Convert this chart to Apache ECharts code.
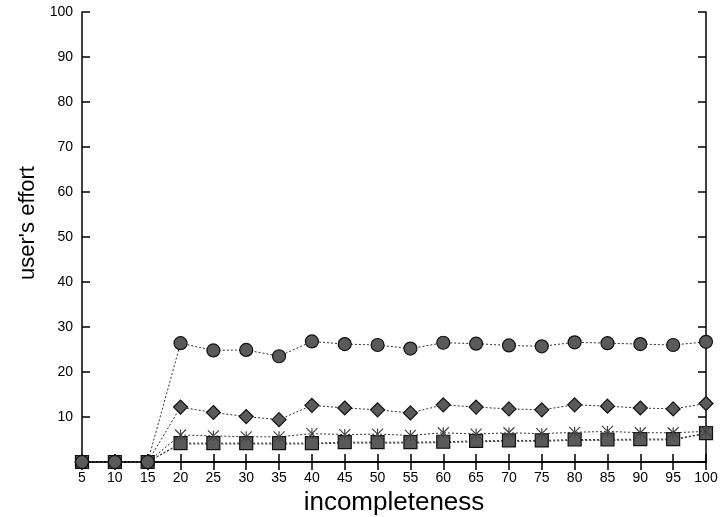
<!DOCTYPE html>
<html>
<head>
<meta charset="utf-8">
<script src="https://cdn.jsdelivr.net/npm/echarts@6/dist/echarts.min.js"></script>
<style>html,body{margin:0;padding:0;background:#fff}#c{width:724px;height:517px}</style>
</head>
<body>
<div id="c"></div>
<script>
const xValues = [5,10,15,20,25,30,35,40,45,50,55,60,65,70,75,80,85,90,95,100];
const circleSeries  = [0,0,0,26.4,24.8,24.9,23.5,26.8,26.2,26.0,25.2,26.5,26.3,25.9,25.7,26.6,26.4,26.2,26.0,26.7];
const diamondSeries = [0,0,0,12.2,11.0,10.1,9.4,12.6,12.0,11.6,10.9,12.7,12.2,11.8,11.6,12.7,12.4,12.0,11.8,13.0];
const crossSeries   = [0,0,0,6.0,5.8,5.6,5.6,6.3,6.1,6.2,5.9,6.5,6.2,6.5,6.3,6.6,6.8,6.5,6.5,6.8];
const squareSeries  = [0,0,0,4.2,4.2,4.2,4.2,4.2,4.4,4.4,4.4,4.5,4.7,4.8,4.8,5.0,5.0,5.1,5.1,6.4];
const lowSeries     = [0,0,0,4.0,4.0,4.0,4.0,4.0,4.2,4.2,4.2,4.3,4.5,4.6,4.6,4.8,4.8,4.9,4.9,6.3];
const yTicks = [0,10,20,30,40,50,60,70,80,90,100];

const pair = arr => xValues.map((x,i)=>[x,arr[i]]);
const lineStyle = {color:'#333', width:1, type:[2,2]};
const itemStyle = {color:'#5a5a5a', borderColor:'#111', borderWidth:1.2};
const crossPath = 'path://M0,0 L10,10 M10,0 L0,10 M5,0 L5,10';

function mk(name, data, symbol, size, z){
  return {name, type:'line', data:pair(data), symbol, symbolSize:size,
    showAllSymbol:true, lineStyle, itemStyle, z, animation:false};
}

const axisLine = {show:true, lineStyle:{color:'#000', width:1.5}};
const axisTick = {show:true, inside:true, length:8, lineStyle:{color:'#000', width:1.5}};
const option = {
  backgroundColor:'#fff',
  grid:{left:82, top:12, width:624, height:450, outerBoundsMode:'none', containLabel:false},
  xAxis:[
    {type:'value', min:5, max:100, interval:5, position:'bottom',
     axisLine, axisTick, splitLine:{show:false},
     axisLabel:{color:'#000', fontFamily:'Liberation Sans', fontSize:14, margin:9},
     name:'incompleteness', nameLocation:'middle', nameGap:22,
     nameTextStyle:{color:'#000', fontFamily:'Liberation Sans', fontSize:26}},
    {type:'value', min:5, max:100, interval:5, position:'top',
     axisLine, axisTick, axisLabel:{show:false}, splitLine:{show:false}}
  ],
  yAxis:[
    {type:'value', min:0, max:100, interval:10, position:'left',
     axisLine, axisTick, splitLine:{show:false},
     axisLabel:{color:'#000', fontFamily:'Liberation Sans', fontSize:14, margin:9,
       formatter:v => v===0 ? '' : String(v)},
     name:"user's effort", nameLocation:'middle', nameGap:38, nameRotate:90,
     nameTextStyle:{color:'#000', fontFamily:'Liberation Sans', fontSize:22, padding:[0,0,0,28]}},
    {type:'value', min:0, max:100, interval:10, position:'right',
     axisLine, axisTick, axisLabel:{show:false}, splitLine:{show:false}}
  ],
  series:[
    mk('low', lowSeries, 'triangle', 8, 1),
    mk('square', squareSeries, 'rect', 13, 2),
    Object.assign(mk('cross', crossSeries, crossPath, 11, 3), {itemStyle:{color:'none', borderColor:'#444', borderWidth:1.2}}),
    mk('diamond', diamondSeries, 'diamond', 14, 4),
    mk('circle', circleSeries, 'circle', 13, 5)
  ]
};
const chart = echarts.init(document.getElementById('c'), null, {renderer:'canvas'});
chart.setOption(option);
</script>
</body>
</html>
